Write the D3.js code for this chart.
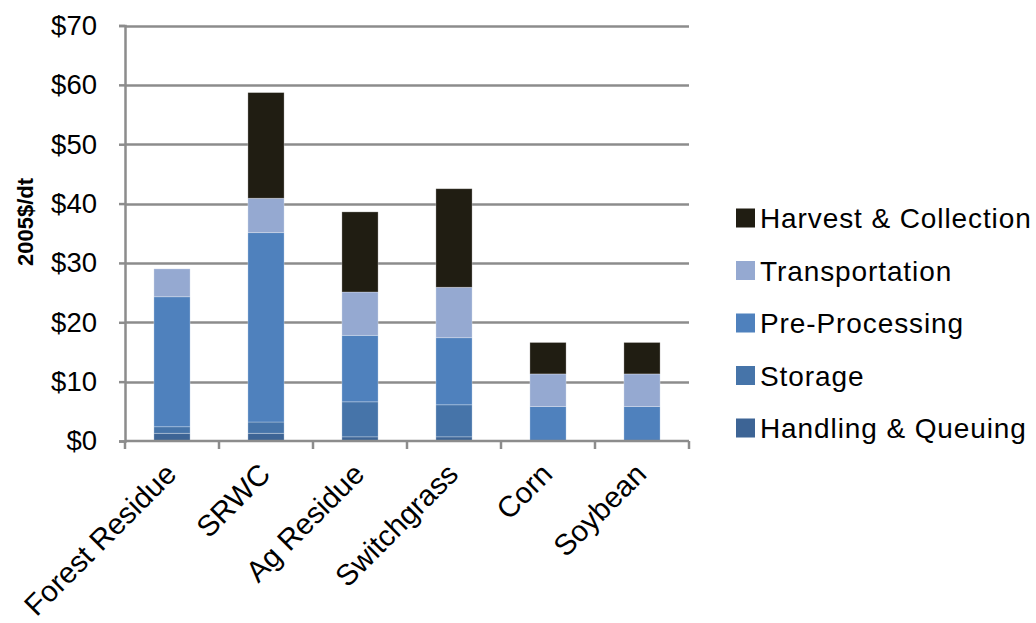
<!DOCTYPE html>
<html>
<head>
<meta charset="utf-8">
<script src="https://cdn.jsdelivr.net/npm/d3@7"></script>
<style>
  html, body { margin: 0; padding: 0; background: #fff; }
  svg { display: block; font-family: "Liberation Sans", Arial, sans-serif; }
</style>
</head>
<body>
<svg id="chart" width="1036" height="623"></svg>
<script>
// Feedstock supply cost components (2005$ per dry ton)
const categories = ["Forest Residue", "SRWC", "Ag Residue", "Switchgrass", "Corn", "Soybean"];
const handlingQueuing = [1.3, 1.3, 0.7, 0.7, 0, 0];
const storage         = [1.1, 1.9, 5.9, 5.4, 0, 0];
const preProcessing   = [21.9, 31.9, 11.2, 11.3, 5.8, 5.8];
const transportation  = [4.7, 5.8, 7.3, 8.5, 5.5, 5.5];
const harvest         = [0, 17.8, 13.5, 16.6, 5.3, 5.3];
const yTicks = [0, 10, 20, 30, 40, 50, 60, 70];

const seriesNames = ["Handling & Queuing", "Storage", "Pre-Processing", "Transportation", "Harvest & Collection"];
const seriesValues = [handlingQueuing, storage, preProcessing, transportation, harvest];
const colors = ["#3d6495", "#4674a9", "#4f81bd", "#95a9d1", "#201d12"];

const rows = categories.map((c, i) => {
  const r = { category: c };
  seriesNames.forEach((s, k) => r[s] = seriesValues[k][i]);
  return r;
});
const stacked = d3.stack().keys(seriesNames)(rows);

const svg = d3.select("#chart");
const plotLeft = 125, plotRight = 689, plotTop = 25.5, plotBottom = 441;

const x = d3.scaleBand().domain(categories).range([plotLeft, plotRight]).paddingInner(0.615).paddingOuter(0.3075);
const y = d3.scaleLinear().domain([0, 70]).range([plotBottom, plotTop]);
const gridColor = "#8c8c8c";

// horizontal gridlines
svg.append("g").selectAll("line").data(yTicks.filter(t => t > 0)).join("line")
  .attr("x1", plotLeft).attr("x2", plotRight)
  .attr("y1", d => Math.round(y(d)) + 0.5).attr("y2", d => Math.round(y(d)) + 0.5)
  .attr("stroke", gridColor).attr("stroke-width", 2.5);

// stacked bars
svg.append("g").selectAll("g").data(stacked).join("g")
  .attr("fill", (d, i) => colors[i])
  .selectAll("rect").data(d => d.filter(p => p[1] - p[0] > 0)).join("rect")
  .attr("x", d => x(d.data.category))
  .attr("width", x.bandwidth())
  .attr("y", d => y(d[1]))
  .attr("height", d => y(d[0]) - y(d[1]))
  .attr("stroke", "rgba(255,255,255,0.35)")
  .attr("stroke-width", 0.8);

// y axis
const yAxis = d3.axisLeft(y).tickValues(yTicks).tickSize(6).tickPadding(22)
  .tickFormat(d => "$" + d);
const gy = svg.append("g").attr("transform", `translate(${plotLeft},0)`).call(yAxis);
gy.select(".domain").attr("stroke", gridColor).attr("stroke-width", 2.5);
gy.selectAll(".tick line").attr("stroke", gridColor).attr("stroke-width", 2.5);
gy.selectAll(".tick text").attr("font-size", 27.5).attr("fill", "#000")
  .attr("font-family", "Liberation Sans, Arial, sans-serif");

// x axis baseline and category boundary ticks
svg.append("line").attr("x1", plotLeft).attr("x2", plotRight).attr("y1", plotBottom).attr("y2", plotBottom)
  .attr("stroke", gridColor).attr("stroke-width", 2.5);
const step = (plotRight - plotLeft) / categories.length;
svg.append("g").selectAll("line").data(d3.range(categories.length + 1)).join("line")
  .attr("x1", i => plotLeft + i * step).attr("x2", i => plotLeft + i * step)
  .attr("y1", plotBottom).attr("y2", plotBottom + 8)
  .attr("stroke", gridColor).attr("stroke-width", 2.5);

// rotated category labels
svg.append("g").selectAll("text").data(categories).join("text")
  .attr("transform", d => `translate(${x(d) + x.bandwidth() / 2 + 6},${plotBottom + 35}) rotate(-45)`)
  .attr("text-anchor", "end")
  .attr("font-size", 29.5)
  .attr("fill", "#000")
  .text(d => d);

// y axis title
svg.append("text")
  .attr("transform", "translate(33,222) rotate(-90)")
  .attr("text-anchor", "middle")
  .attr("font-size", 22).attr("font-weight", "bold")
  .attr("fill", "#000")
  .text("2005$/dt");

// legend (top entry is the top of the stack)
const legendOrder = seriesNames.map((s, i) => ({ name: s, color: colors[i] })).reverse();
const lg = svg.append("g").selectAll("g").data(legendOrder).join("g")
  .attr("transform", (d, i) => `translate(736,${218 + i * 52.5})`);
lg.append("rect").attr("x", 0).attr("y", -9.5).attr("width", 19).attr("height", 19)
  .attr("fill", d => d.color);
lg.append("text").attr("x", 24).attr("y", 10).attr("font-size", 28)
  .attr("letter-spacing", 0.9).attr("fill", "#000")
  .text(d => d.name);
</script>
</body>
</html>
